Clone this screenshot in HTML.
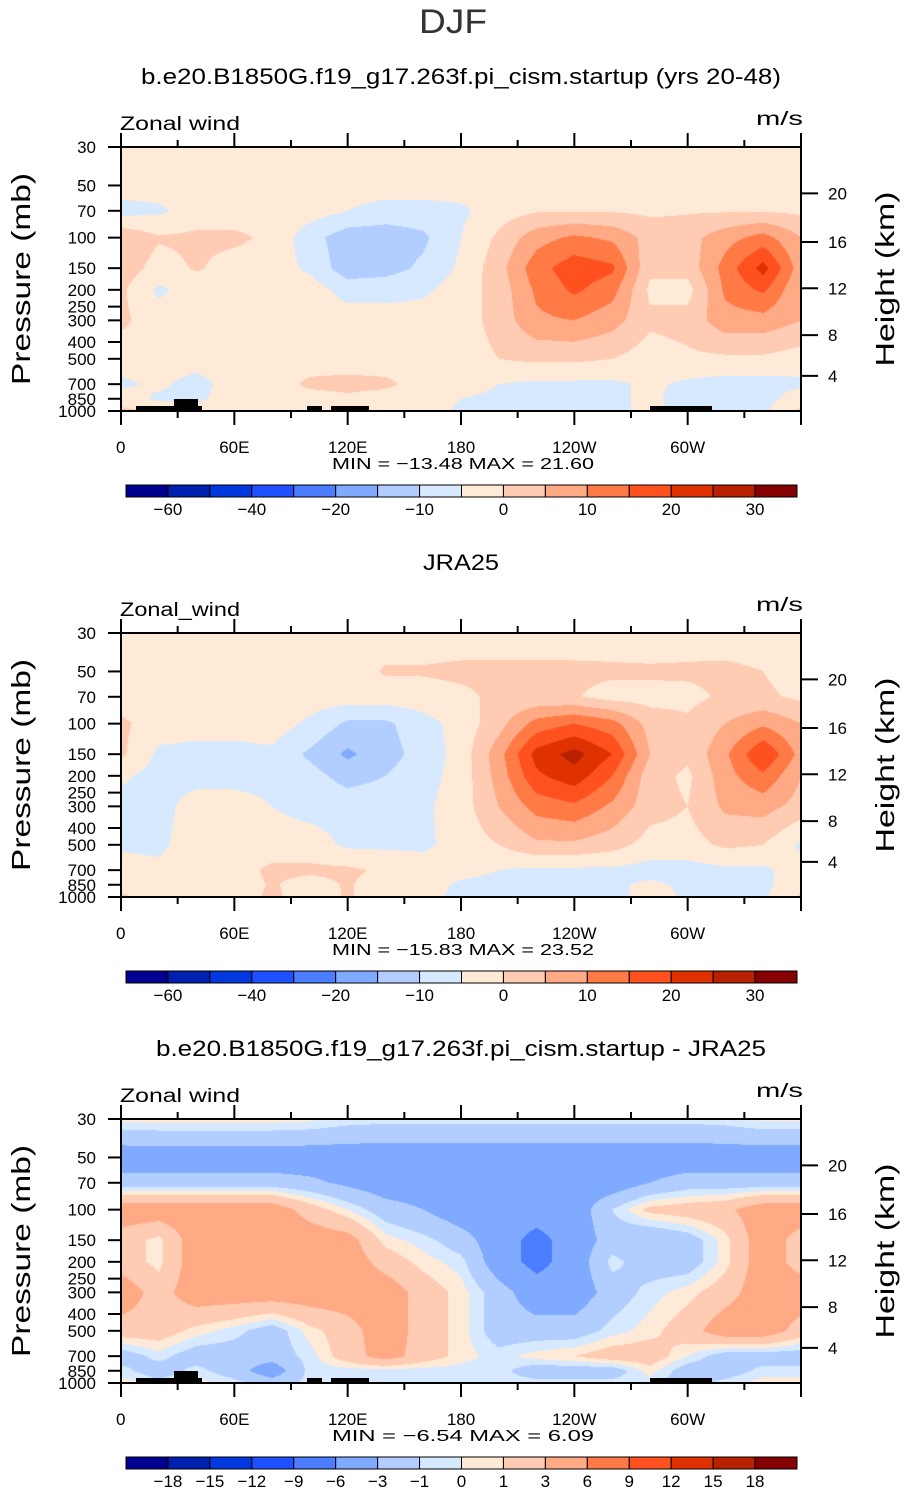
<!DOCTYPE html>
<html><head><meta charset="utf-8"><style>
html,body{margin:0;padding:0;background:#fff;}
#wrap{position:relative;width:907px;height:1493px;overflow:hidden;font-family:"Liberation Sans",sans-serif;}
canvas{position:absolute;left:121px;}
svg{position:absolute;left:0;top:0;}
</style></head><body>
<div id="wrap">
<canvas id="c0" width="680" height="264" style="top:147px"></canvas>
<canvas id="c1" width="680" height="264" style="top:633px"></canvas>
<canvas id="c2" width="680" height="264" style="top:1119px"></canvas>
<svg id="svg" width="907" height="1493" xmlns="http://www.w3.org/2000/svg"></svg>
</div>
<script>
// ---- data ----
const lons = [0,20,40,60,80,100,120,140,160,180,200,220,240,260,280,300,320,340,360];
const pLevels = [30,50,70,100,150,200,300,500,700,850,1000];
const model = [
[2.5,2.5,2.5,2.5,2.5,2.5,2.5,2.5,2.5,2.5,2.5,2.5,2.5,2.5,2.5,2.5,2.5,2.5,2.5],
[2.5,2.5,2.5,2.5,2.5,2.5,2.5,2.5,2.5,2.5,2.5,2.5,2.5,2.5,2.5,2.5,2.5,1,2.5],
[-2,-1,2.5,2.5,2.5,2.5,0,-2,-2,-1,2.5,4.5,4.5,4.5,4,4.5,4.5,4.5,4],
[9,5.5,6,6,4,-3,-8,-8,-6,0,6,13,16,14,8,8,13,17,10],
[8,3,5.5,3,2.5,-1,-8,-7,-4,1,8,18,23,21,6,7,17,27,12],
[6,-1,2.5,2.5,2.5,2.5,-2,-2,-1,2.5,7,16,21,17,4,3,16,21,10],
[6,2.5,2.5,2.5,2.5,2.5,2.5,2.5,2.5,2.5,7,14,15,12,6,7,13,13,10],
[2.5,2.5,2.5,2.5,2.5,2.5,2.5,2.5,2.5,2.5,5,6,6,5,2.5,4,4,4,2.5],
[-1,1,-2,2.5,2.5,6,6.5,6,3,2,0,-1,-1,-1,1,-1,-2,-2,-1],
[3,-1,-1,2.5,2.5,3,4,3,2.5,0,-1,-4,-3,-1,1,-2,-2,-2,3],
[6,5,2.5,2.5,2.5,2.5,2.5,2.5,2.5,-1,-1,-2,-2,-1,1,-1,-1,-1,6]
];
const jra = [
[2.5,2,1,1,1,1,2,2.5,2.5,2.5,2.5,2.5,2.5,2,1,2,2.5,2.5,2.5],
[2.5,2.5,2.5,2.5,2.5,2.5,2.5,5.5,5.5,6,6,6,6,6,6,6,6,5,2.5],
[2.5,2.5,2.5,2.5,2.5,2.5,2.5,2.5,3,4,6,6,5.5,3,3,3.5,6,6,4],
[6,2.5,2.5,2.5,2.5,-1,-6,-6,-2,2,8,17,20,17,8,6,10,14,10],
[6,-1,-2,-2,-1,-6,-11,-7,-3,2,13,27,32,25,10,6,14,25,13],
[1,-2,-2,-2,-2,-3,-7,-5,-2,2,12,24,28,20,7,4,13,19,10],
[-2,-2,2.5,2.5,0,-2,-2,-2,-1,2.5,10,17,19,14,7,5,11,12,8],
[-1,-1,2.5,2.5,2.5,2.5,-1,-1,-1,2,5,9,9,7,3,3,6,5,-1],
[2.5,1,2.5,3,6,6,6,4,2.5,2,0,-1,-1,-1,-2,-2,-1,-1,2.5],
[2.5,2.5,2.5,2.5,5.5,3,5.5,2.5,2.5,-1,-2,-2,-2,-1,1,-1,-2,-1,2.5],
[6,2.5,2.5,2.5,6,2.5,5.5,2.5,2.5,-2,-2,-2,-2,-2,2.5,-1,-1,-1,6]
];
const diff = [
[0.3,0.5,0.5,0.5,0.5,0.3,-0.3,-0.5,-0.5,-0.5,-0.5,-0.5,-0.5,-0.5,-0.5,-0.5,-0.3,0.3,0.3],
[-4.5,-4.5,-4.5,-4.5,-4.5,-4.5,-4.5,-4.5,-4.5,-4.5,-4.5,-4.5,-4.5,-4.5,-4.5,-4.5,-4.5,-4.5,-4.5],
[-2,-2,-2,-2,-2,-2.5,-3.5,-4.5,-4.5,-4.5,-4.5,-4.5,-4.5,-4.5,-3,-2,-2,-2,-2],
[4.5,4.5,4.5,4.5,4.5,2,0,-2,-3,-4.5,-4.5,-4.5,-4.5,-1,1.5,2,2.5,4.5,4.5],
[2,0.5,4.5,4.5,4.5,4.5,4,0.5,-0.5,-2,-4.5,-7,-4.5,-2,-3,-2,0.5,4.5,2],
[2,0.5,4.5,4.5,4.5,4.5,4.5,2,0.5,-0.5,-4.5,-7,-4.5,-0.5,-2,-2,0.5,4.5,2],
[4.5,2,4.5,4.5,4.5,4.5,4.5,4.5,2,0.5,-2,-4.5,-4.5,-2,-0.5,0.5,2,4.5,4.5],
[2,2,0.5,-0.5,-2,0.5,2,4.5,2,0.5,-2,-2,-2,-0.5,0.5,2,4.5,4.5,2],
[-2,-0.5,-2,-2,-2,-0.5,2,4,2,0.5,-0.5,0.5,1,2,2,0,-2,-2,-2],
[-0.5,-2,-0.5,-2,-4.5,-0.5,-0.5,-0.5,-0.5,-0.5,-0.5,-2,-2,-2,0.5,-2,-2,-0.5,-0.5],
[0.5,-0.5,0.5,-0.5,-2,-0.5,-0.5,-0.5,-0.5,-0.5,-0.5,-0.5,-0.5,-0.5,-0.5,-2,-0.5,0.5,0.5]
];
const windLevels = [-60,-50,-40,-30,-20,-15,-10,-5,0,5,10,15,20,25,30];
const windLabels = ["-60","","-40","","-20","","-10","","0","","10","","20","","30"];
const diffLevels = [-18,-15,-12,-9,-6,-3,-1,0,1,3,6,9,12,15,18];
const diffLabels = ["-18","-15","-12","-9","-6","-3","-1","0","1","3","6","9","12","15","18"];
const colors = ['#000090','#0020B0','#0038E0','#1E50FF','#4A7DFF','#80AAFF','#B2CDFF','#D6E9FF','#FFEAD8','#FFCBB2','#FFA985','#FF7A45','#FF5020','#E03200','#B82100','#850000'];
const pTicks = [30,50,70,100,150,200,250,300,400,500,700,850,1000];
const hTicks = [20,16,12,8,4];
const hTickPressure = [55.5,106,196,365,627];
const lonTicks = [0,30,60,90,120,150,180,210,240,270,300,330,360];
const lonLabels = {0:"0",60:"60E",120:"120E",180:"180",240:"120W",300:"60W"};
const titles = ["b.e20.B1850G.f19_g17.263f.pi_cism.startup (yrs 20-48)","JRA25","b.e20.B1850G.f19_g17.263f.pi_cism.startup - JRA25"];
const titleW = [640,76,610];
const leftLabels = ["Zonal wind","Zonal_wind","Zonal wind"];
const minVals = ["-13.48","-15.83","-6.54"];
const maxVals = ["21.60","23.52","6.09"];

// ---- geometry ----
const PX0=121, PW=680, PH=264;
const panelTop=[147,633,1119];
const xOf = lon => PX0 + lon/360*PW;
const yOf = (p,top) => top + Math.log(p/30)/Math.log(1000/30)*PH;
const NS="http://www.w3.org/2000/svg";
const svg=document.getElementById('svg');
function mk(tag,attrs,parent){const e=document.createElementNS(NS,tag);for(const k in attrs)e.setAttribute(k,attrs[k]);(parent||svg).appendChild(e);return e;}
function hexRGB(h){return [parseInt(h.substr(1,2),16),parseInt(h.substr(3,2),16),parseInt(h.substr(5,2),16)];}
const rgb=colors.map(hexRGB);
function classify(v,levels,shift){let i=0;for(const b of levels){if(v>=b+shift)i++;}return Math.min(i,15);}
function sample(grid,lon,lp){
  let fi=lon/20; let i=Math.min(Math.floor(fi),lons.length-2); let tx=fi-i;
  const lpl=pLevels.map(p=>Math.log(p));
  let j=0; while(j<lpl.length-2 && lp>lpl[j+1]) j++;
  let ty=(lp-lpl[j])/(lpl[j+1]-lpl[j]); ty=Math.max(0,Math.min(1,ty));
  const a=grid[j][i],b=grid[j][i+1],c=grid[j+1][i],d=grid[j+1][i+1];
  return (a*(1-tx)+b*tx)*(1-ty)+(c*(1-tx)+d*tx)*ty;
}
function drawField(id,grid,levels,shift){
  const cv=document.getElementById(id),ctx=cv.getContext('2d');
  const img=ctx.createImageData(PW,PH);
  for(let y=0;y<PH;y++){
    const lp=Math.log(30)+(y+0.5)/PH*Math.log(1000/30);
    for(let x=0;x<PW;x++){
      const lon=(x+0.5)/PW*360;
      const c=rgb[classify(sample(grid,lon,lp),levels,shift)];
      const k=(y*PW+x)*4; img.data[k]=c[0];img.data[k+1]=c[1];img.data[k+2]=c[2];img.data[k+3]=255;
    }
  }
  ctx.putImageData(img,0,0);
}
drawField('c0',model,windLevels,5);
drawField('c1',jra,windLevels,5);
drawField('c2',diff,diffLevels,0);

let t=mk('text',{x:453,y:33,'text-anchor':'middle','font-size':34,fill:'#333',textLength:68,lengthAdjust:'spacingAndGlyphs'});


t.textContent='DJF';

for(let k=0;k<3;k++){
  const top=panelTop[k], dy=top-147;
  const g=mk('g',{});
  
  
  let tt=mk('text',{x:461,y:84+dy,'text-anchor':'middle','font-size':22,fill:'#000',textLength:titleW[k],lengthAdjust:'spacingAndGlyphs'},g);
  
  
  tt.textContent=titles[k];
  let zl=mk('text',{x:120,y:130+dy,'font-size':19,fill:'#000',textLength:120,lengthAdjust:'spacingAndGlyphs'},g);
  
  
  zl.textContent=leftLabels[k];
  let un=mk('text',{x:803,y:125+dy,'text-anchor':'end','font-size':19,fill:'#000',textLength:47,lengthAdjust:'spacingAndGlyphs'},g);
  
  
  un.textContent='m/s';
  if(k!==1){
    const boxes=[[136,406,66,5],[174,399,24,7],[307,406,15,5],[331,406,38,5],[650,406,62,5]];
    for(const b of boxes){
      let r=mk('rect',{x:b[0],y:b[1]+dy,width:b[2],height:b[3],fill:'#000'},g);
      
      
    }
  }
  let fr=mk('rect',{x:PX0,y:top,width:PW,height:PH,fill:'none',stroke:'#000','stroke-width':2},g);
  
  
  for(const p of pTicks){
    const y=yOf(p,top);
    let l=mk('line',{x1:108,x2:PX0,y1:y,y2:y,stroke:'#000','stroke-width':2},g);
    
    
    let tx=mk('text',{x:96,y:y+6,'text-anchor':'end','font-size':17,fill:'#000'},g);
    
    
    tx.textContent=p;
  }
  for(let i=0;i<hTicks.length;i++){
    const y=yOf(hTickPressure[i],top);
    let l=mk('line',{x1:PX0+PW,x2:818,y1:y,y2:y,stroke:'#000','stroke-width':2},g);
    
    
    let tx=mk('text',{x:828,y:y+6,'font-size':17,fill:'#000'},g);
    
    
    tx.textContent=hTicks[i];
  }
  for(const lon of lonTicks){
    const x=xOf(lon), major=lon%60===0;
    let l1=mk('line',{x1:x,x2:x,y1:top,y2:top-(major?14:7),stroke:'#000','stroke-width':2},g);
    
    
    let l2=mk('line',{x1:x,x2:x,y1:top+PH,y2:top+PH+(major?14:7),stroke:'#000','stroke-width':2},g);
    
    
    if(lonLabels[lon]!==undefined){
      let tx=mk('text',{x:x,y:top+PH+42,'text-anchor':lon===0?'start':'middle','font-size':17,fill:'#000'},g);
      if(lon===0) tx.setAttribute('x',x-5);
      
      
      tx.textContent=lonLabels[lon];
    }
  }
  let yl=mk('text',{transform:`translate(30,${top+132}) rotate(-90)`,'text-anchor':'middle','font-size':26,fill:'#000',textLength:212,lengthAdjust:'spacingAndGlyphs'},g);
  
  
  yl.textContent='Pressure (mb)';
  let hl=mk('text',{transform:`translate(894,${top+132}) rotate(-90)`,'text-anchor':'middle','font-size':26,fill:'#000',textLength:175,lengthAdjust:'spacingAndGlyphs'},g);
  
  
  hl.textContent='Height (km)';
  let mm=mk('text',{x:463,y:top+PH+58,'text-anchor':'middle','font-size':16,fill:'#000','xml:space':'preserve',textLength:262,lengthAdjust:'spacingAndGlyphs'},g);
  
  
  mm.textContent='MIN =  \u2212'+minVals[k].replace('-','')+'   MAX =   '+maxVals[k];
  const cbY=485+dy, cbX=126, cbW=671/16;
  const labs=k===2?diffLabels:windLabels;
  for(let i=0;i<16;i++){
    let r=mk('rect',{x:cbX+i*cbW,y:cbY,width:cbW,height:12,fill:colors[i],stroke:'#000','stroke-width':1},g);
    
    
  }
  for(let i=0;i<15;i++){
    if(!labs[i]) continue;
    let tx=mk('text',{x:cbX+(i+1)*cbW,y:cbY+30,'text-anchor':'middle','font-size':17,fill:'#000'},g);
    
    
    tx.textContent=labs[i].replace('-','\u2212');
  }
}
</script>
</body></html>
